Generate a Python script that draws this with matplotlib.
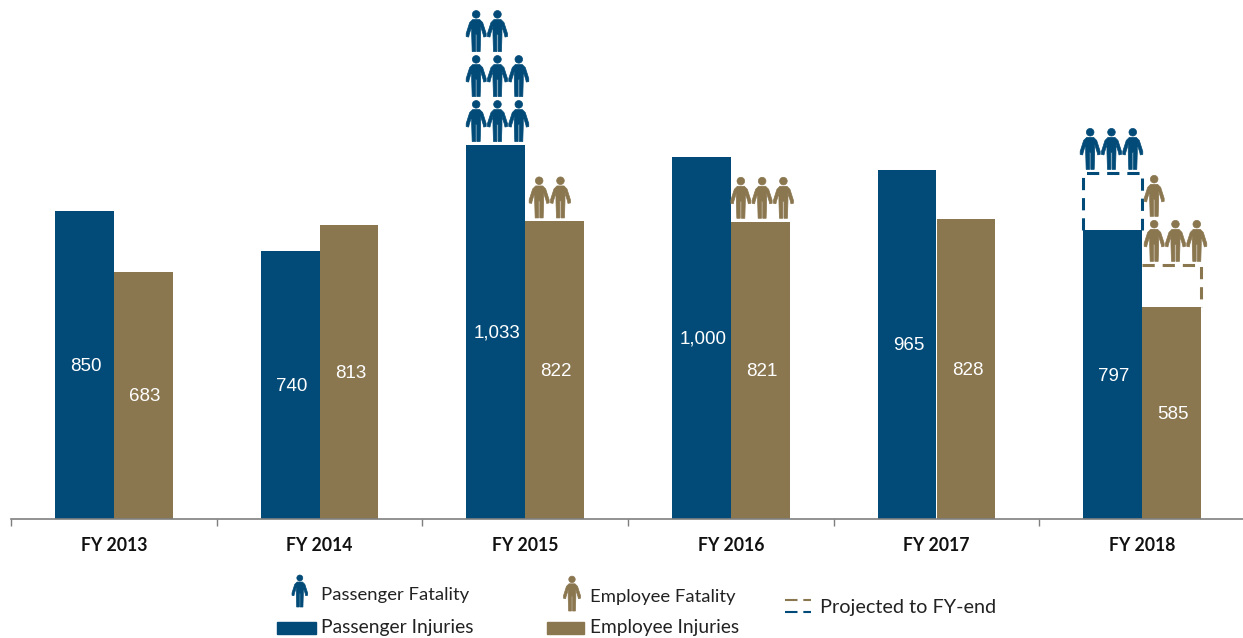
import matplotlib
matplotlib.use('Agg')
import matplotlib.pyplot as plt
import numpy as np
from matplotlib.path import Path
from matplotlib.patches import PathPatch, Rectangle
from matplotlib.transforms import Affine2D

years = ['FY 2013', 'FY 2014', 'FY 2015', 'FY 2016', 'FY 2017', 'FY 2018']
passenger_injuries = [850, 740, 1033, 1000, 965, 797]
employee_injuries = [683, 813, 822, 821, 828, 585]
# dashed outlines, only FY 2018 has a projection
passenger_projected = [None, None, None, None, None, 956]
employee_projected = [None, None, None, None, None, 702]
passenger_fatalities = [0, 0, 8, 0, 0, 3]
employee_fatalities = [0, 0, 2, 3, 0, 4]

BLUE = '#024B78'
TAN = '#8A764F'
W, H = 1243, 638

# the icons on the slide were placed by hand, so shift some of them a bit (pixels)
passenger_nudge = [0, 0, 0, 0, 0, -3]
employee_nudge = [0, 0, 4, 0, 0, 2]

def person_path():
  # person drawn in pixels, 20 wide and 41 tall, feet at y=0
  verts = [(6, 0), (9.4, 0), (9.4, 17), (10.6, 17), (10.6, 0), (14, 0), (14.5, 17), (14.5, 25),
           (17, 17), (17.5, 14.5), (20, 15), (20, 18), (16.5, 29), (13.5, 32), (6.5, 32), (3.5, 29),
           (0, 18), (0, 15), (2.5, 14.5), (3, 17), (5.5, 25), (5.5, 17), (6, 0)]
  codes = [Path.MOVETO] + [Path.LINETO] * (len(verts) - 2) + [Path.CLOSEPOLY]
  body = Path(verts, codes)
  head = Path.circle((10, 37.2), 3.8)
  return Path.make_compound_path(body, head)

PERSON = person_path()

def draw_person(fig, px, py, color, scale=1.0):
  # px, py are pixels from the top left of the image
  tr = Affine2D().scale(scale).translate(px, H - py)
  fig.add_artist(PathPatch(PERSON, facecolor=color, edgecolor=color, linewidth=0.5, transform=tr))

def draw_stack(fig, ax, left, top, count, color, nudge):
  # people stand on the bar in rows of three
  for i in range(count):
    row, col = divmod(i, 3)
    x, y = ax.transData.transform((left, top))
    draw_person(fig, x + nudge + col * 21.3, H - y - 3.5 - row * 45, color)

def main():
  plt.rcParams['font.family'] = ['Lato', 'DejaVu Sans']
  fig = plt.figure(figsize=(W / 100, H / 100), dpi=100)
  ax = fig.add_axes([11 / W, 1 - 519 / H, 1234 / W, 519 / H])
  ax.set_xlim(0, 6)
  ax.set_ylim(0, 519 / 0.362)
  ax.patch.set_alpha(0)

  x = np.arange(len(years)) + 0.5
  bw = 59 / 205.7
  b1 = ax.bar(x - bw / 2, passenger_injuries, bw, color=BLUE)
  b2 = ax.bar(x + bw / 2, employee_injuries, bw, color=TAN)
  for bars in (b1, b2):
    for b in bars:
      ax.annotate(f'{b.get_height():,.0f}', (b.get_x() + bw / 2, b.get_height() / 2), xytext=(1, -1),
                  textcoords='offset points', ha='center', va='center', color='white', fontsize=13.5,
                  family='Liberation Sans')

  for i in range(len(years)):
    if passenger_projected[i] is not None:
      left = x[i] - bw
      ax.plot([left, left, left + bw, left + bw],
              [passenger_injuries[i], passenger_projected[i], passenger_projected[i], passenger_injuries[i]],
              color=BLUE, lw=2.2, dashes=(4, 2.6), clip_on=False)
    if employee_projected[i] is not None:
      # no left side here, the blue bar is already there
      ax.plot([x[i], x[i] + bw, x[i] + bw],
              [employee_projected[i], employee_projected[i], employee_injuries[i]],
              color=TAN, lw=2.2, dashes=(4, 2.6), clip_on=False)

    ptop = passenger_projected[i] or passenger_injuries[i]
    etop = employee_projected[i] or employee_injuries[i]
    draw_stack(fig, ax, x[i] - bw, ptop, passenger_fatalities[i], BLUE, passenger_nudge[i])
    draw_stack(fig, ax, x[i], etop, employee_fatalities[i], TAN, employee_nudge[i])

  for s in ('top', 'left', 'right'):
    ax.spines[s].set_visible(False)
  ax.spines['bottom'].set_color('#7f7f7f')
  ax.spines['bottom'].set_linewidth(1.2)
  ax.set_yticks([])
  ax.set_xticks(np.arange(0, 7))
  ax.set_xticklabels([])
  ax.tick_params(axis='x', length=5, width=1, color='#7f7f7f')
  for xi, label in zip(x, years):
    ax.annotate(label, (xi, 0), xytext=(0, -19), textcoords='offset points', ha='center', va='center',
                fontsize=12.7, fontweight='bold', color='#111111')

  # legend is laid out by hand like the source slide
  def txt(px, py, s, size):
    fig.text(px / W, 1 - py / H, s, fontsize=size, va='center', ha='left', color='#222222')

  draw_person(fig, 292, 607, BLUE, 0.78)
  txt(321, 595, 'Passenger Fatality', 13.3)
  draw_person(fig, 563.5, 611, TAN, 0.85)
  txt(590, 597, 'Employee Fatality', 13.3)
  fig.add_artist(Rectangle((277 / W, 1 - 634 / H), 39 / W, 12 / H, color=BLUE, transform=fig.transFigure))
  txt(321, 627, 'Passenger Injuries', 13.9)
  fig.add_artist(Rectangle((547 / W, 1 - 634 / H), 37 / W, 12 / H, color=TAN, transform=fig.transFigure))
  txt(590, 627, 'Employee Injuries', 13.75)
  for py, color in ((600, TAN), (612, BLUE)):
    fig.add_artist(plt.Line2D([785 / W, 811 / W], [1 - py / H] * 2, color=color, lw=1.5, dashes=(6, 2.8),
                              transform=fig.transFigure))
  txt(820, 607, 'Projected to FY-end', 14.3)

  fig.savefig('out.png', dpi=100)
  plt.close()

if __name__ == '__main__':
  main()
